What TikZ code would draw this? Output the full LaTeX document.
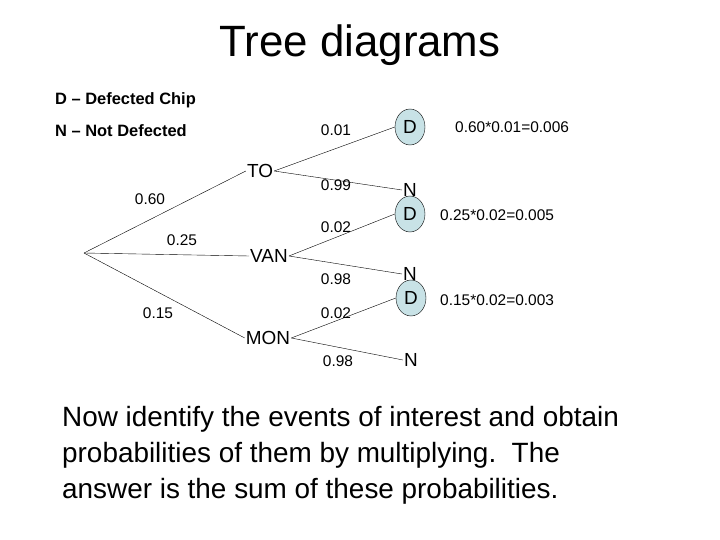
\documentclass[tikz,border=0pt]{standalone}
\usepackage{fontspec}
\setmainfont{Liberation Sans}
\usetikzlibrary{shapes.geometric}
\definecolor{dfill}{RGB}{200,226,230}
\tikzset{
    lbl/.style={font=\fontsize{15.5}{17}\selectfont},
    city/.style={font=\fontsize{19}{21}\selectfont, inner sep=1pt},
    dnode/.style={ellipse, draw, fill=dfill, inner sep=1pt, minimum width=30bp, minimum height=36bp, font=\fontsize{19}{21}\selectfont},
    nnode/.style={inner sep=1pt, font=\fontsize{19}{21}\selectfont}
}
\begin{document}
\begin{tikzpicture}[x=1bp,y=-1bp]
    \useasboundingbox (0,0) rectangle (720,540);

    % Titolo e legenda
    \node[font=\fontsize{44}{48}\selectfont] at (360,45) {Tree diagrams};
    \node[anchor=west, inner sep=0pt, font=\fontsize{16.5}{18}\selectfont\bfseries] at (55,100) {D -- Defected Chip};
    \node[anchor=west, inner sep=0pt, font=\fontsize{16.5}{18}\selectfont\bfseries] at (55,131) {N -- Not Defected};

    % Radice e primo livello
    \coordinate (root) at (84,253);
    \node[city] (to) at (260,171) {TO};
    \node[city] (van) at (269,256) {VAN};
    \node[city] (mon) at (268,338) {MON};
    \draw (root) -- (to.west);
    \draw (root) -- (van.west);
    \draw (root) -- (mon.west);
    \node[lbl] at (150,199) {0.60};
    \node[lbl] at (182,240) {0.25};
    \node[lbl] at (158,313) {0.15};

    % Secondo livello
    \node[dnode] (d1) at (410,127) {D};
    \node[nnode] (n1) at (410,190) {N};
    \node[dnode] (d2) at (410,214) {D};
    \node[nnode] (n2) at (410,274) {N};
    \node[dnode] (d3) at (411,298) {D};
    \node[nnode] (n3) at (411,360) {N};
    \draw (to.east) -- (d1.west);
    \draw (to.east) -- (n1.west);
    \draw (van.east) -- (d2.west);
    \draw (van.east) -- (n2.west);
    \draw (mon.east) -- (d3.west);
    \draw (mon.east) -- (n3.west);
    \node[lbl] at (336,130) {0.01};
    \node[lbl] at (336,185) {0.99};
    \node[lbl] at (336,227) {0.02};
    \node[lbl] at (336,279) {0.98};
    \node[lbl] at (336,313) {0.02};
    \node[lbl] at (338,361) {0.98};

    % Prodotti
    \node[lbl, anchor=west, inner sep=0pt] at (455,127) {0.60*0.01=0.006};
    \node[lbl, anchor=west, inner sep=0pt] at (440,215) {0.25*0.02=0.005};
    \node[lbl, anchor=west, inner sep=0pt] at (440,300) {0.15*0.02=0.003};

    % Testo finale
    \node[align=left, anchor=north west, inner sep=0pt, font=\fontsize{28}{36}\selectfont] at (62,406) {
        Now identify the events of interest and obtain\\
        probabilities of them by multiplying.\ \ The\\
        answer is the sum of these probabilities.};
\end{tikzpicture}
\end{document}
